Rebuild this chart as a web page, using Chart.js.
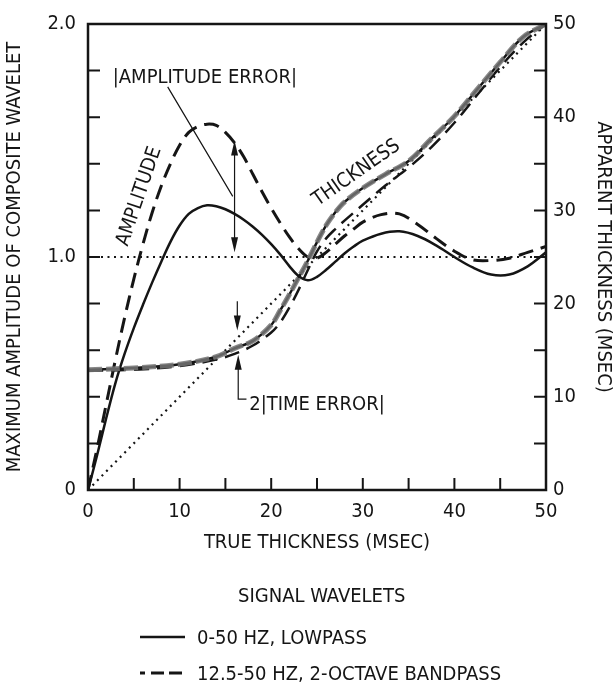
<!DOCTYPE html>
<html>
<head>
<meta charset="utf-8">
<style>
  html, body { margin: 0; padding: 0; background: #fff; }
  #wrap { position: relative; width: 616px; height: 685px; }
  #chart { position: absolute; left: 0; top: 0; }
  .lg { position: absolute; font-family: "Liberation Sans Narrow", "DejaVu Sans Condensed", sans-serif;
        font-size: 20px; color: #151515; line-height: 24px; white-space: nowrap; }
  .lg svg { position: absolute; }
</style>
<script src="https://cdn.jsdelivr.net/npm/chart.js@4.4.1/dist/chart.umd.min.js"></script>
</head>
<body>
<div id="wrap">
  <canvas id="chart" width="616" height="685"></canvas>
  <div class="lg" style="left:238px; top:583px;">SIGNAL WAVELETS</div>
  <div class="lg" style="left:138px; top:625px;">
    <svg width="50" height="24" style="left:0; top:0;"><line x1="2" y1="12" x2="47" y2="12" stroke="#151515" stroke-width="2.5"/></svg>
    <span style="margin-left:59px;">0-50 HZ, LOWPASS</span>
  </div>
  <div class="lg" style="left:138px; top:661px;">
    <svg width="50" height="24" style="left:0; top:0;"><line x1="2" y1="12" x2="48" y2="12" stroke="#151515" stroke-width="3" stroke-dasharray="5 6 13 5 13"/></svg>
    <span style="margin-left:59px;">12.5-50 HZ, 2-OCTAVE BANDPASS</span>
  </div>
</div>
<script>
  const FONT = '"Liberation Sans Narrow", "DejaVu Sans Condensed", sans-serif';
  const INK = "#151515";

  // true thickness (msec) for the amplitude curves
  const ampX = [0, 1, 2, 3, 4, 5, 6, 7, 8, 9, 10, 11, 12, 13, 14, 15, 16, 17, 18, 19,
    20, 21, 22, 23, 24, 25, 26, 27, 28, 29, 30, 32, 34, 36, 38, 40, 42, 44, 46, 48, 50];
  const lowpassAmp = [0, 0.15, 0.31, 0.46, 0.585, 0.695, 0.795, 0.89, 0.98, 1.065,
    1.135, 1.185, 1.21, 1.222, 1.218, 1.205, 1.185, 1.16, 1.13, 1.095,
    1.055, 1.01, 0.96, 0.918, 0.90, 0.915, 0.945, 0.98, 1.015, 1.045,
    1.07, 1.10, 1.11, 1.09, 1.05, 1.00, 0.955, 0.925, 0.925, 0.96, 1.02];
  const bandpassAmp = [0, 0.18, 0.37, 0.56, 0.74, 0.905, 1.055, 1.19, 1.305, 1.40,
    1.48, 1.535, 1.56, 1.57, 1.565, 1.535, 1.49, 1.43, 1.355, 1.28,
    1.21, 1.145, 1.085, 1.035, 1.0, 0.995, 1.02, 1.055, 1.09, 1.12,
    1.15, 1.182, 1.185, 1.14, 1.08, 1.025, 0.988, 0.985, 0.995, 1.02, 1.045];

  // true thickness (msec) for the apparent thickness curves
  const thickX = [0, 5, 10, 14, 16, 18, 20, 21, 22, 23, 24, 25, 26, 27, 28, 30,
    32.5, 35, 37.5, 40, 42.5, 45, 47.5, 50];
  const lowpassThick = [12.9, 13.1, 13.5, 14.3, 15.2, 16.0, 17.7, 19.3, 21.0, 22.8, 24.6, 26.6,
    28.4, 29.8, 30.9, 32.4, 33.9, 35.3, 37.7, 40.1, 43.0, 45.9, 48.6, 50];
  const bandpassThick = [12.8, 12.9, 13.3, 14.0, 14.6, 15.5, 16.9, 18.0, 19.6, 21.5, 23.6, 25.6,
    27.0, 28.0, 28.9, 30.6, 32.7, 34.6, 36.8, 39.4, 42.4, 45.4, 48.0, 50];

  // reference lines: unit amplitude and apparent = true thickness
  const refX = [0, 50];
  const unitAmp = [1, 1];
  const equalThick = [0, 50];

  const xTicks = [0, 10, 20, 30, 40, 50];
  const ampTicks = [0, 1, 2];
  const thickTicks = [0, 10, 20, 30, 40, 50];

  const pts = (xs, ys) => xs.map((x, i) => ({ x, y: ys[i] }));
  const curve = (data, axis, style) => ({
    data, yAxisID: axis, pointRadius: 0, fill: false, borderColor: INK,
    tension: 0.35, ...style,
  });
  const dotted = { borderWidth: 2.2, borderDash: [2, 4.5], tension: 0, order: 6 };

  const near = (v, list) => list.some((t) => Math.abs(v - t) < 1e-6);

  const arrowHead = (ctx, x, tipY, dir) => {
    // dir = -1 points up, 1 points down
    ctx.beginPath();
    ctx.moveTo(x, tipY);
    ctx.lineTo(x - 3.5, tipY - dir * 15);
    ctx.lineTo(x + 3.5, tipY - dir * 15);
    ctx.closePath();
    ctx.fill();
  };

  const frameAndNotes = {
    id: "frameAndNotes",
    afterDraw(chart) {
      const { ctx, chartArea: a, scales } = chart;
      const X = (v) => scales.x.getPixelForValue(v);
      const Y = (v) => scales.y.getPixelForValue(v);
      ctx.save();
      ctx.strokeStyle = INK;
      ctx.fillStyle = INK;

      // frame
      ctx.lineWidth = 2.5;
      ctx.strokeRect(a.left, a.top, a.right - a.left, a.bottom - a.top);

      // inward ticks
      ctx.lineWidth = 2;
      ctx.beginPath();
      scales.y.ticks.forEach((t) => {
        if (t.value <= 0 || t.value >= 2) return;
        const p = Y(t.value);
        ctx.moveTo(a.left, p); ctx.lineTo(a.left + 12, p);
      });
      scales.y2.ticks.forEach((t) => {
        if (t.value <= 0 || t.value >= 50) return;
        const p = scales.y2.getPixelForValue(t.value);
        ctx.moveTo(a.right, p); ctx.lineTo(a.right - 12, p);
      });
      scales.x.ticks.forEach((t) => {
        if (t.value <= 0 || t.value >= 50) return;
        const p = X(t.value);
        ctx.moveTo(p, a.bottom); ctx.lineTo(p, a.bottom - 12);
      });
      ctx.stroke();

      // amplitude error: leader and double arrow
      ctx.lineWidth = 1.2;
      ctx.beginPath();
      ctx.moveTo(X(8.7), Y(1.73)); ctx.lineTo(X(15.8), Y(1.26));
      ctx.moveTo(X(16.0), Y(1.47)); ctx.lineTo(X(16.0), Y(1.05));
      ctx.stroke();
      arrowHead(ctx, X(16.0), Y(1.50), -1);
      arrowHead(ctx, X(16.0), Y(1.02), 1);

      // time error: down arrow, up arrow and bracket
      ctx.beginPath();
      ctx.moveTo(X(16.3), Y(0.81)); ctx.lineTo(X(16.3), Y(0.70));
      ctx.moveTo(X(16.4), Y(0.56)); ctx.lineTo(X(16.4), Y(0.39));
      ctx.lineTo(X(17.3), Y(0.39));
      ctx.stroke();
      arrowHead(ctx, X(16.3), Y(0.685), 1);
      arrowHead(ctx, X(16.4), Y(0.58), -1);

      // text notes
      ctx.font = `20px ${FONT}`;
      ctx.textBaseline = "middle";
      ctx.textAlign = "left";
      ctx.fillText("|AMPLITUDE ERROR|", X(2.7), Y(1.77));
      ctx.fillText("2|TIME ERROR|", X(17.6), Y(0.365));

      ctx.textAlign = "center";
      ctx.save();
      ctx.translate(X(5.6), Y(1.26));
      ctx.rotate((-71 * Math.PI) / 180);
      ctx.fillText("AMPLITUDE", 0, 0);
      ctx.restore();

      ctx.save();
      ctx.translate(X(29.3), Y(1.36));
      ctx.rotate((-35 * Math.PI) / 180);
      ctx.fillText("THICKNESS", 0, 0);
      ctx.restore();

      ctx.restore();
    },
  };

  const tickFont = { family: FONT, size: 20 };
  const titleFont = { family: FONT, size: 20 };

  new Chart(document.getElementById("chart"), {
    type: "line",
    data: {
      datasets: [
        curve(pts(refX, unitAmp), "y", dotted),
        curve(pts(refX, equalThick), "y2", dotted),
        curve(pts(ampX, lowpassAmp), "y", { borderWidth: 2.5, order: 4 }),
        curve(pts(ampX, bandpassAmp), "y", { borderWidth: 3, borderDash: [15, 8], order: 3 }),
        curve(pts(thickX, lowpassThick), "y2", { borderWidth: 2.5, order: 2 }),
        curve(pts(thickX, bandpassThick), "y2", { borderWidth: 2.5, borderDash: [15, 8], order: 5 }),
        curve(pts(thickX, lowpassThick), "y2", { borderWidth: 5, borderDash: [14, 4], borderColor: "rgba(115,115,115,0.85)", order: 1 }),
      ],
    },
    options: {
      responsive: false,
      animation: false,
      devicePixelRatio: 1,
      layout: { padding: { top: 22, left: 0, right: 0, bottom: 0 } },
      plugins: { legend: { display: false }, tooltip: { enabled: false } },
      scales: {
        x: {
          type: "linear", min: 0, max: 50,
          grid: { display: false, drawTicks: false }, border: { display: false },
          ticks: {
            stepSize: 5, color: INK, font: tickFont, padding: 10, maxRotation: 0,
            callback: (v) => (near(v, xTicks) ? String(Math.round(v)) : ""),
          },
          title: { display: true, text: "TRUE THICKNESS (MSEC)", color: INK, font: titleFont, padding: { top: 0, bottom: 130 } },
          afterFit: (s) => { s.height = 195; },
        },
        y: {
          type: "linear", position: "left", min: 0, max: 2,
          grid: { display: false, drawTicks: false }, border: { display: false },
          ticks: {
            stepSize: 0.2, color: INK, font: tickFont, padding: 12,
            callback: (v) => (near(v, ampTicks) ? (v < 0.5 ? "0" : v.toFixed(1)) : ""),
          },
          title: { display: true, text: "MAXIMUM AMPLITUDE OF COMPOSITE WAVELET", color: INK, font: titleFont, padding: { top: 3, bottom: 0 } },
          afterFit: (s) => { s.width = 88; },
        },
        y2: {
          type: "linear", position: "right", min: 0, max: 50,
          grid: { display: false, drawTicks: false }, border: { display: false },
          ticks: {
            stepSize: 5, color: INK, font: tickFont, padding: 7,
            callback: (v) => (near(v, thickTicks) ? String(Math.round(v)) : ""),
          },
          title: { display: true, text: "APPARENT THICKNESS (MSEC)", color: INK, font: titleFont, padding: { top: 1, bottom: 0 } },
          afterFit: (s) => { s.width = 70; },
        },
      },
    },
    plugins: [frameAndNotes],
  });
</script>
</body>
</html>
